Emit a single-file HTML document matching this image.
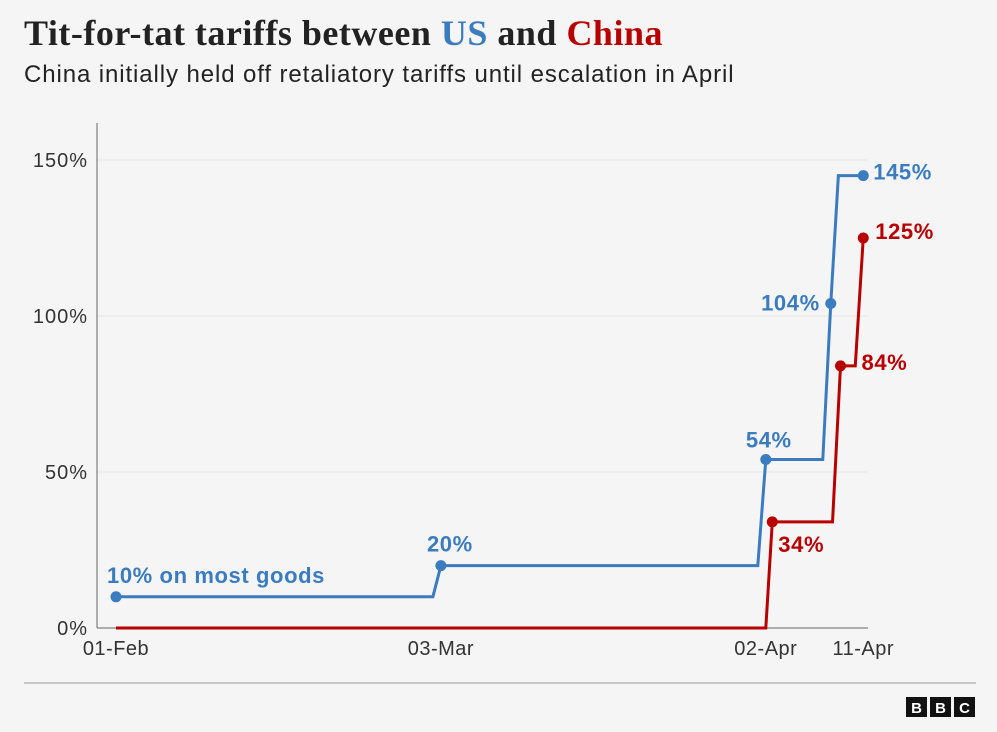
<!DOCTYPE html>
<html><head><meta charset="utf-8"><style>
body{margin:0;background:#f5f5f5;width:997px;height:732px;overflow:hidden;font-family:"Liberation Sans",sans-serif}
#title{position:absolute;left:24px;top:12px;font-family:"Liberation Serif",serif;font-weight:bold;font-size:36px;letter-spacing:0.5px;color:#222;white-space:nowrap}
#sub{position:absolute;left:24px;top:61px;font-size:24px;letter-spacing:0.9px;color:#222;white-space:nowrap}
svg{position:absolute;left:0;top:0}
</style></head><body>
<div id="title">Tit-for-tat tariffs between <span style="color:#3a7cbf">US</span> and <span style="color:#b80000">China</span></div>
<div id="sub">China initially held off retaliatory tariffs until escalation in April</div>
<svg id="chart" width="997" height="732"></svg>
<script>
const yTicks=[0,50,100,150];
const yTickLabels=["0%","50%","100%","150%"];
const xTickDays=[0,30,60,69];
const xTickLabels=["01-Feb","03-Mar","02-Apr","11-Apr"];
const usDays=[0,30,60,66,66.7,69];
const usValues=[10,20,54,104,145,145];
const usDots=[1,1,1,1,0,1];
const chinaDays=[0,60,60.6,66.9,69];
const chinaValues=[0,0,34,84,125];
const chinaDots=[0,0,1,1,1];
const usLabels=["10% on most goods","20%","54%","104%","","145%"];
const chinaLabels=["","","34%","84%","125%"];
const x=d=>116+d*10.83;
const y=v=>628-v*3.12;
const svg=document.getElementById('chart');
const NS='http://www.w3.org/2000/svg';
function mk(t,a){const e=document.createElementNS(NS,t);for(const k in a)e.setAttribute(k,a[k]);svg.appendChild(e);return e;}
yTicks.forEach((v,i)=>{
 if(v>0){const g=mk('line',{x1:97,x2:868,y1:y(v),y2:y(v),stroke:'#e6e6e6'});
 
 }
 const t=mk('text',{x:88,y:y(v)+7,'text-anchor':'end','font-size':20,'letter-spacing':1,fill:'#333'});t.textContent=yTickLabels[i];
 
 
});
xTickDays.forEach((d,i)=>{
 const t=mk('text',{x:x(d),y:655,'text-anchor':'middle','font-size':20,'letter-spacing':0.5,fill:'#333'});t.textContent=xTickLabels[i];
 
 
});
const ax=mk('line',{x1:97,x2:97,y1:123,y2:628,stroke:'#666'});


const bx=mk('line',{x1:97,x2:868,y1:628,y2:628,stroke:'#666'});


function series(days,vals,dots,labels,col,name,pos){
 let p=`M${x(days[0])},${y(vals[0])}`;
 for(let i=1;i<days.length;i++){const xe=x(days[i]);const xs=Math.max(x(days[i-1]),xe-8);p+=` L${xs},${y(vals[i-1])} L${xe},${y(vals[i])}`;}
 const l=mk('path',{d:p,fill:'none',stroke:col,'stroke-width':3});
 
 
 days.forEach((d,i)=>{
  if(dots[i]){const c=mk('circle',{cx:x(d),cy:y(vals[i]),r:5.5,fill:col});
  
  }
  if(labels[i]){const o=pos[i];const t=mk('text',{x:x(d)+o[0],y:y(vals[i])+o[1],'text-anchor':o[2],'font-size':22,'letter-spacing':0.6,'font-weight':'bold',fill:col});t.textContent=labels[i];
  
  }
 });
}
series(usDays,usValues,usDots,usLabels,'#3a7cbf','us',[[-9,-14,'start'],[9,-14,'middle'],[3,-12,'middle'],[-11,7,'end'],[0,0,'start'],[10,4,'start']]);
series(chinaDays,chinaValues,chinaDots,chinaLabels,'#b80000','china',[[0,0,'start'],[0,0,'start'],[6,30,'start'],[21,4,'start'],[12,1,'start']]);
const r=mk('line',{x1:24,x2:976,y1:683,y2:683,stroke:'#999'});


['B','B','C'].forEach((ch,i)=>{
 const b=mk('rect',{x:906+i*24,y:697,width:21,height:20,fill:'#111'});
 
 
 const t=mk('text',{x:916.5+i*24,y:713,'text-anchor':'middle','font-size':15,'font-weight':'bold',fill:'#fff'});t.textContent=ch;
 
 
});
</script>
</body></html>
